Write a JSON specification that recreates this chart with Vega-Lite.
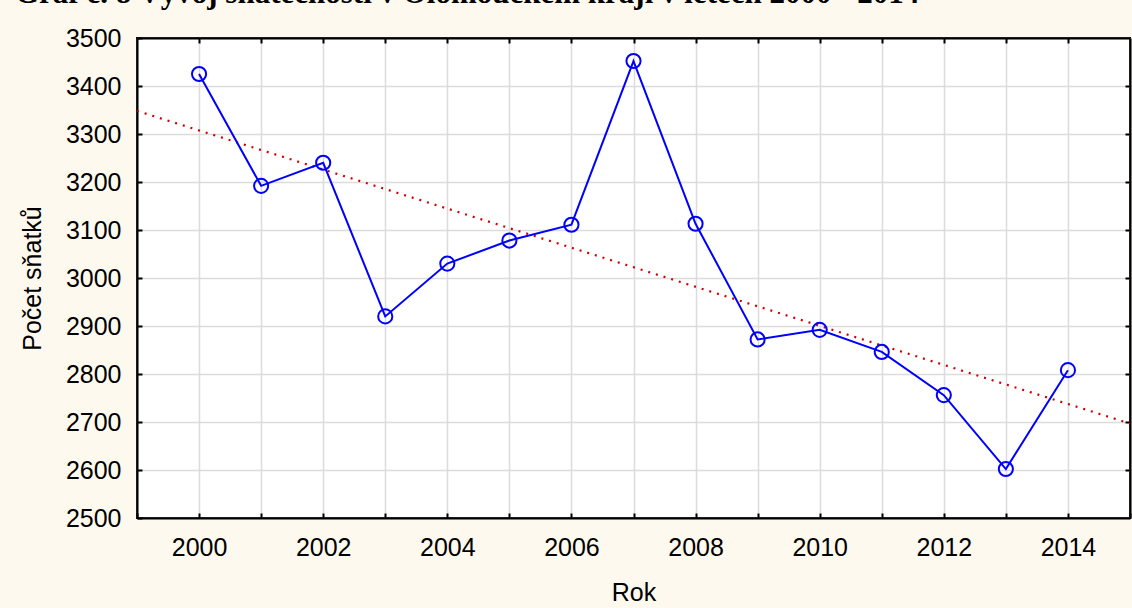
{
  "$schema": "https://vega.github.io/schema/vega-lite/v6.json",
  "autosize": {"type": "none"},
  "width": 993,
  "height": 480,
  "padding": {"left": 137, "top": 38, "right": 2, "bottom": 90},
  "background": "#FDF9EE",
  "title": {
    "text": "Graf č. 8 Vývoj sňatečnosti v Olomouckém kraji v letech 2000 - 2014",
    "anchor": "start",
    "frame": "group",
    "orient": "top",
    "baseline": "alphabetic",
    "offset": 26,
    "dy": 34,
    "dx": -122,
    "font": "Liberation Serif",
    "fontSize": 31,
    "fontWeight": "bold",
    "color": "#000000"
  },
  "config": {
    "view": {"fill": "#FFFFFF", "stroke": "#000000", "strokeWidth": 2},
    "axis": {
      "labelFont": "Liberation Sans",
      "titleFont": "Liberation Sans",
      "labelFontSize": 25,
      "titleFontSize": 25,
      "labelColor": "#000000",
      "titleColor": "#000000",
      "titleFontWeight": "normal",
      "domainColor": "#000000",
      "domainWidth": 2,
      "tickColor": "#000000",
      "tickWidth": 2,
      "gridColor": "#DCDCDC",
      "gridWidth": 1.5
    }
  },
  "data": {
    "values": [
      {"rok": 2000, "pocet": 3425},
      {"rok": 2001, "pocet": 3192},
      {"rok": 2002, "pocet": 3240},
      {"rok": 2003, "pocet": 2920},
      {"rok": 2004, "pocet": 3030},
      {"rok": 2005, "pocet": 3078},
      {"rok": 2006, "pocet": 3111},
      {"rok": 2007, "pocet": 3452},
      {"rok": 2008, "pocet": 3113},
      {"rok": 2009, "pocet": 2872},
      {"rok": 2010, "pocet": 2892},
      {"rok": 2011, "pocet": 2846},
      {"rok": 2012, "pocet": 2756},
      {"rok": 2013, "pocet": 2602},
      {"rok": 2014, "pocet": 2808}
    ]
  },
  "resolve": {"axis": {"x": "independent", "y": "independent"}},
  "layer": [
    {
      "layer": [
        {
          "transform": [{"regression": "pocet", "on": "rok", "extent": [1999, 2015]}],
          "mark": {"type": "line", "color": "#D00000", "strokeWidth": 2.2, "strokeDash": [2, 6], "clip": true},
          "encoding": {
            "x": {"field": "rok", "type": "quantitative"},
            "y": {"field": "pocet", "type": "quantitative"}
          }
        },
        {
          "mark": {"type": "line", "color": "#0000FF", "strokeWidth": 2},
          "encoding": {
            "x": {"field": "rok", "type": "quantitative"},
            "y": {"field": "pocet", "type": "quantitative"}
          }
        },
        {
          "mark": {"type": "point", "shape": "circle", "filled": false, "color": "#0000FF", "size": 200, "strokeWidth": 2, "opacity": 1},
          "encoding": {
            "x": {"field": "rok", "type": "quantitative"},
            "y": {"field": "pocet", "type": "quantitative"}
          }
        }
      ],
      "encoding": {
        "x": {
          "field": "rok",
          "type": "quantitative",
          "title": "Rok",
          "scale": {"domain": [1999, 2015], "nice": false, "zero": false},
          "axis": {
            "values": [1999, 2000, 2001, 2002, 2003, 2004, 2005, 2006, 2007, 2008, 2009, 2010, 2011, 2012, 2013, 2014, 2015],
            "labelExpr": "datum.value % 2 == 0 && datum.value >= 2000 && datum.value <= 2014 ? datum.value : ''",
            "format": "d",
            "tickSize": -5,
            "labelPadding": 22,
            "titlePadding": 20,
            "labelFlush": false,
            "labelOverlap": false,
            "grid": true
          }
        },
        "y": {
          "field": "pocet",
          "type": "quantitative",
          "title": "Počet sňatků",
          "scale": {"domain": [2500, 3500], "nice": false, "zero": false},
          "axis": {
            "values": [2500, 2600, 2700, 2800, 2900, 3000, 3100, 3200, 3300, 3400, 3500],
            "format": "d",
            "tickSize": -5,
            "labelPadding": 21,
            "titlePadding": 20,
            "labelFlush": false,
            "labelOverlap": false,
            "grid": true
          }
        }
      }
    },
    {
      "mark": {"type": "point", "opacity": 0},
      "encoding": {
        "x": {
          "field": "rok",
          "type": "quantitative",
          "scale": {"domain": [1999, 2015], "nice": false, "zero": false},
          "axis": {
            "orient": "top",
            "values": [2000, 2001, 2002, 2003, 2004, 2005, 2006, 2007, 2008, 2009, 2010, 2011, 2012, 2013, 2014],
            "labels": false,
            "title": null,
            "tickSize": -5,
            "grid": false
          }
        },
        "y": {
          "field": "pocet",
          "type": "quantitative",
          "scale": {"domain": [2500, 3500], "nice": false, "zero": false},
          "axis": {
            "orient": "right",
            "values": [2600, 2700, 2800, 2900, 3000, 3100, 3200, 3300, 3400],
            "labels": false,
            "title": null,
            "tickSize": -5,
            "grid": false
          }
        }
      }
    }
  ]
}
